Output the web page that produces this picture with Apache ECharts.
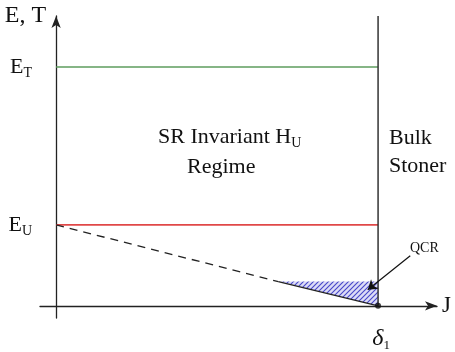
<!DOCTYPE html>
<html>
<head>
<meta charset="utf-8">
<script src="https://cdn.jsdelivr.net/npm/echarts@6/dist/echarts.min.js"></script>
<style>html,body{margin:0;padding:0;background:#fff}#c{width:455px;height:352px}</style>
</head>
<body>
<div id="c"></div>
<script>
// ---- data (axis units) ----
var xRange = [-0.05, 1.183];          // J axis extent
var yRange = [-0.15, 3.58];           // E axis extent
var delta1 = 1.0;                     // δ1 position on J axis
var E_T = 2.95;                       // E_T level
var E_U = 1.0;                        // E_U level
var lineDashed = [[0, E_U], [0.69, 0.3]];   // dashed part of the E_U -> δ1 line
var lineSolid = [[0.69, 0.3], [delta1, 0]]; // solid part (lower edge of QCR)
var qcrRegion = [[0.69, 0.3], [delta1, 0.3], [delta1, 0]];
var qcrArrow = [[1.1, 0.62], [0.968, 0.2]];
var yTickValues = [E_U, E_T];
var yTickLabels = ['{e|E}{s|U}', '{e|E}{s|T}'];
var xTickValues = [delta1];
var xTickLabels = ['{d|δ}{s|1}'];

var serif = '"Liberation Serif","DejaVu Serif",serif';

// hatch pattern
var pc = document.createElement('canvas');
pc.width = 5; pc.height = 5;
var g = pc.getContext('2d');
g.fillStyle = '#dcdcf6'; g.fillRect(0, 0, 5, 5);
g.strokeStyle = '#4646c8'; g.lineWidth = 1.1;
g.beginPath();
g.moveTo(-1, 6); g.lineTo(6, -1);
g.moveTo(-1, 1); g.lineTo(1, -1);
g.moveTo(4, 6); g.lineTo(6, 4);
g.stroke();

var chart = echarts.init(document.getElementById('c'), null, {renderer: 'canvas'});
chart.setOption({
  animation: false,
  grid: {left: 40, top: 16, width: 397, height: 302},
  xAxis: {
    type: 'value', min: xRange[0], max: xRange[1],
    splitLine: {show: false}, axisTick: {show: false},
    axisLine: {onZero: true, symbol: ['none', 'arrow'], symbolSize: [7, 12],
      lineStyle: {color: '#222', width: 1.3}},
    axisLabel: {customValues: xTickValues, margin: 9, color: '#111',
      formatter: function (v) { return xTickLabels[xTickValues.indexOf(v)] || ''; },
      rich: {
        d: {fontFamily: serif, fontSize: 24, fontStyle: 'italic', color: '#111', verticalAlign: 'top', lineHeight: 26, padding: [0, 0, 0, 6]},
        s: {fontFamily: serif, fontSize: 13, color: '#111', verticalAlign: 'top', lineHeight: 14, padding: [12, 0, 0, 0]}
      }},
    name: 'J', nameLocation: 'end', nameGap: 5,
    nameTextStyle: {fontFamily: serif, fontSize: 23, color: '#111', verticalAlign: 'middle'}
  },
  yAxis: {
    type: 'value', min: yRange[0], max: yRange[1],
    splitLine: {show: false}, axisTick: {show: false},
    axisLine: {onZero: true, symbol: ['none', 'arrow'], symbolSize: [7, 12],
      lineStyle: {color: '#222', width: 1.3}},
    axisLabel: {customValues: yTickValues, margin: 8, color: '#111',
      formatter: function (v) { return yTickLabels[yTickValues.indexOf(v)] || ''; },
      rich: {
        e: {fontFamily: serif, fontSize: 22, color: '#111', verticalAlign: 'top', lineHeight: 22, padding: [0, 0, 0, 0]},
        s: {fontFamily: serif, fontSize: 14, color: '#111', verticalAlign: 'top', lineHeight: 14, padding: [10, 0, 0, 0]}
      }},
    name: 'E, T', nameLocation: 'end', nameGap: 0,
    nameTextStyle: {fontFamily: serif, fontSize: 24, color: '#111', align: 'right', verticalAlign: 'middle', padding: [0, 10, 0, 0]}
  },
  series: [
    {type: 'custom', renderItem: function (params, api) {
        var pts = qcrRegion.map(function (p) { return api.coord(p); });
        return {type: 'polygon', shape: {points: pts},
          style: {fill: {image: pc, repeat: 'repeat'}, stroke: null}};
      }, data: [0], silent: true, z: 1},
    {type: 'line', data: [[0, E_T], [delta1, E_T]], symbol: 'none',
      lineStyle: {color: '#5e9c5e', width: 1.6}, z: 3},
    {type: 'line', data: [[0, E_U], [delta1, E_U]], symbol: 'none',
      lineStyle: {color: '#e04848', width: 1.6}, z: 3},
    {type: 'line', data: [[delta1, 0], [delta1, yRange[1]]], symbol: 'none',
      lineStyle: {color: '#333', width: 1.5}, z: 3},
    {type: 'line', data: lineDashed, symbol: 'none',
      lineStyle: {color: '#222', width: 1.3, type: [8, 6]}, z: 3},
    {type: 'line', data: lineSolid, symbol: 'none',
      lineStyle: {color: '#222', width: 1.3}, z: 3},
    {type: 'scatter', data: [[delta1, 0]], symbol: 'circle', symbolSize: 6,
      itemStyle: {color: '#111'}, z: 4},
    {type: 'lines', coordinateSystem: 'cartesian2d', data: [{coords: qcrArrow}],
      symbol: ['none', 'arrow'], symbolSize: 9,
      lineStyle: {color: '#111', width: 1.2, opacity: 1}, z: 4}
  ],
  graphic: [
    {type: 'text', left: 158, top: 126, style: {rich: {
        a: {fontFamily: serif, fontSize: 22, fill: '#111', verticalAlign: 'top', lineHeight: 22},
        b: {fontFamily: serif, fontSize: 14, fill: '#111', verticalAlign: 'top', lineHeight: 14, padding: [10, 0, 0, 0]}},
      text: '{a|SR Invariant H}{b|U}'}},
    {type: 'text', left: 187, top: 156, style: {text: 'Regime', font: '22px ' + serif, fill: '#111'}},
    {type: 'text', left: 389, top: 127, style: {text: 'Bulk', font: '22px ' + serif, fill: '#111'}},
    {type: 'text', left: 389, top: 155, style: {text: 'Stoner', font: '22px ' + serif, fill: '#111'}},
    {type: 'text', left: 410, top: 241, style: {text: 'QCR', font: '14px ' + serif, fill: '#111'}}
  ]
});
</script>
</body>
</html>
